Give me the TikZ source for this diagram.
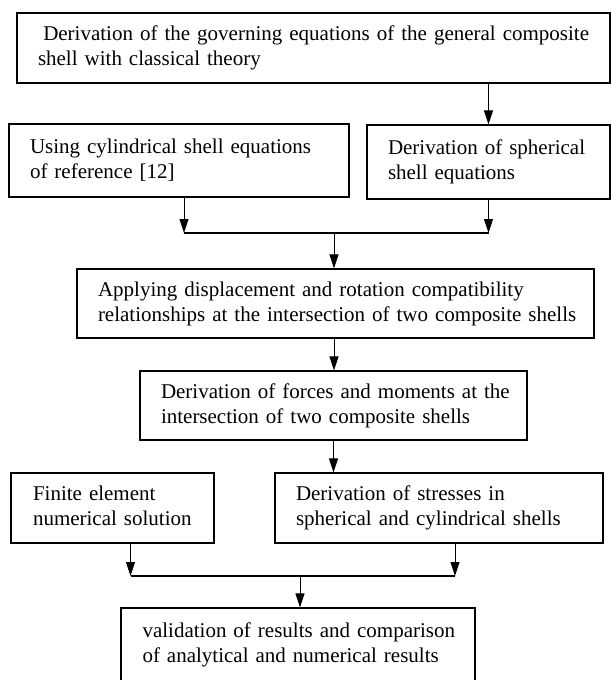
\documentclass[tikz,border=0pt]{standalone}
\usepackage{fontspec}
\setmainfont{Liberation Serif}
\usetikzlibrary{arrows.meta}

% lines of a box, kept unbroken and left aligned
\newcommand{\blklines}[1]{\begin{tabular}{@{}l@{}}#1\end{tabular}}

\begin{document}
\begin{tikzpicture}
[
	x=1pt,y=-1pt,
	blk/.style={rectangle,draw,line width=1.3,inner xsep=0,inner ysep=0,align=left,font=\fontsize{21}{25}\selectfont},
	arr/.style={line width=1,-{Triangle[length=14pt,width=9pt]}}
]
\useasboundingbox (0,0) rectangle (612,680);

\node[blk,minimum width=593,minimum height=70,text width=551] (gov) at (313.5,48) {\blklines{\hspace{0.25em}Derivation of the governing equations of the general composite\\shell with classical theory}};

\node[blk,minimum width=340,minimum height=73,text width=298] (cyl) at (179,160.5) {\blklines{Using cylindrical shell equations\\of reference [12]}};
\node[blk,minimum width=243,minimum height=74,text width=201] (sph) at (488.5,162) {\blklines{Derivation of spherical\\shell equations}};

\node[blk,minimum width=517,minimum height=69,text width=475] (comp) at (335.5,303.5) {\blklines{Applying displacement and rotation compatibility\\relationships at the intersection of two composite shells}};
\node[blk,minimum width=387,minimum height=69,text width=345] (force) at (333.5,405.5) {\blklines{Derivation of forces and moments at the\\intersection of two composite shells}};

\node[blk,minimum width=203,minimum height=70,text width=159] (fem) at (112.5,508) {\blklines{Finite element\\numerical solution}};
\node[blk,minimum width=328,minimum height=70,text width=286] (stress) at (439,508) {\blklines{Derivation of stresses in\\spherical and cylindrical shells}};

\node[blk,minimum width=354,minimum height=74,text width=311] (valid) at (298,645) {\blklines{validation of results and comparison\\of analytical and numerical results}};

\coordinate (j1) at (334,233);
\coordinate (j2) at (300,576);

\draw[arr] (gov.south -| sph)	--	(sph.north);

\draw[arr] ([xshift=5]cyl.south)	--	([xshift=5]cyl.south |- j1);
\draw[arr] (sph.south)	--	(sph.south |- j1);
\draw[line width=1.2] ([xshift=5]cyl.south |- j1) -- (sph.south |- j1);
\draw[arr] (j1)	--	(j1 |- comp.north);

\draw[arr] (comp.south -| j1)	--	(force.north -| j1);
\draw[arr] (force.south)	--	(force.south |- stress.north);

\draw[arr] ([xshift=18]fem.south)	--	([xshift=18]fem.south |- j2);
\draw[arr] ([xshift=16]stress.south)	--	([xshift=16]stress.south |- j2);
\draw[line width=1.2] ([xshift=18]fem.south |- j2) -- ([xshift=16]stress.south |- j2);
\draw[arr] (j2)	--	(j2 |- valid.north);

\end{tikzpicture}
\end{document}
